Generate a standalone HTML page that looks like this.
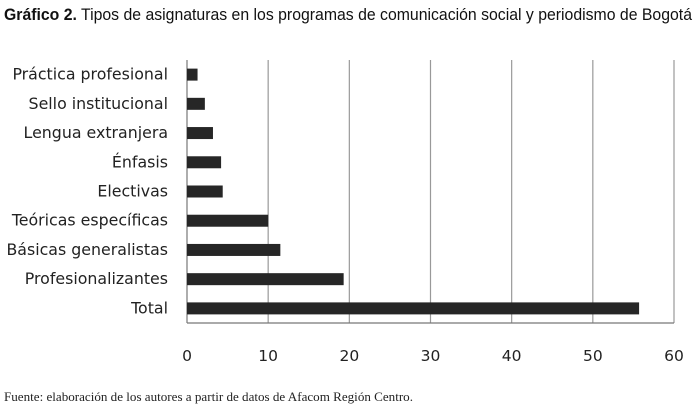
<!DOCTYPE html>
<html><head><meta charset="utf-8"><style>
body{margin:0;background:#fff;width:700px;height:409px;overflow:hidden}
svg{display:block}
</style></head><body>
<svg width="700" height="409">
<text x="4" y="20" font-family="Liberation Sans, sans-serif" font-size="17" fill="#111" textLength="688" lengthAdjust="spacingAndGlyphs"><tspan font-weight="bold">Gráfico 2.</tspan> Tipos de asignaturas en los programas de comunicación social y periodismo de Bogotá</text>
<g id="grid"></g><g id="bars"></g><g id="labels"></g><g id="ticks"></g>
<text x="4" y="401" font-family="Liberation Serif, serif" font-size="13" fill="#222" textLength="409" lengthAdjust="spacingAndGlyphs">Fuente: elaboración de los autores a partir de datos de Afacom Región Centro.</text>
</svg>
<script>
const categories=["Práctica profesional","Sello institucional","Lengua extranjera","Énfasis","Electivas","Teóricas específicas","Básicas generalistas","Profesionalizantes","Total"];
const values=[1.3,2.2,3.2,4.2,4.4,10,11.5,19.3,55.7];
const tickValues=[0,10,20,30,40,50,60];
const NS="http://www.w3.org/2000/svg";
const x0=187,x1=674,yTop=60,yBot=323;
const xs=v=>x0+(v/60)*(x1-x0);
const rowH=(yBot-yTop)/categories.length;
const yc=i=>yTop+rowH*(i+0.5);
function mk(t,a,p){const e=document.createElementNS(NS,t);for(const k in a)e.setAttribute(k,a[k]);p.appendChild(e);return e;}
const g=document.getElementById('grid'),b=document.getElementById('bars'),l=document.getElementById('labels'),tk=document.getElementById('ticks');
tickValues.forEach(v=>{
 const ln=mk('line',{x1:xs(v),x2:xs(v),y1:yTop,y2:yBot,stroke:v===0?'#777':'#999','stroke-width':1.2},g);
 
 
 const t=mk('text',{x:xs(v),y:361,'text-anchor':'middle','font-family':'DejaVu Sans, sans-serif','font-size':15.5,fill:'#222'},tk);
 t.textContent=v;
 
 
});
const ax=mk('line',{x1:x0,x2:x1,y1:yBot,y2:yBot,stroke:'#777','stroke-width':1.2},g);


categories.forEach((c,i)=>{
 const r=mk('rect',{x:x0,y:yc(i)-6,width:xs(values[i])-x0,height:12,fill:'#262626'},b);
 
 
 const t=mk('text',{x:168,y:yc(i)+5,'text-anchor':'end','font-family':'DejaVu Sans, sans-serif','font-size':15.8,fill:'#222'},l);
 t.textContent=c;
 
 
});
</script>
</body></html>
